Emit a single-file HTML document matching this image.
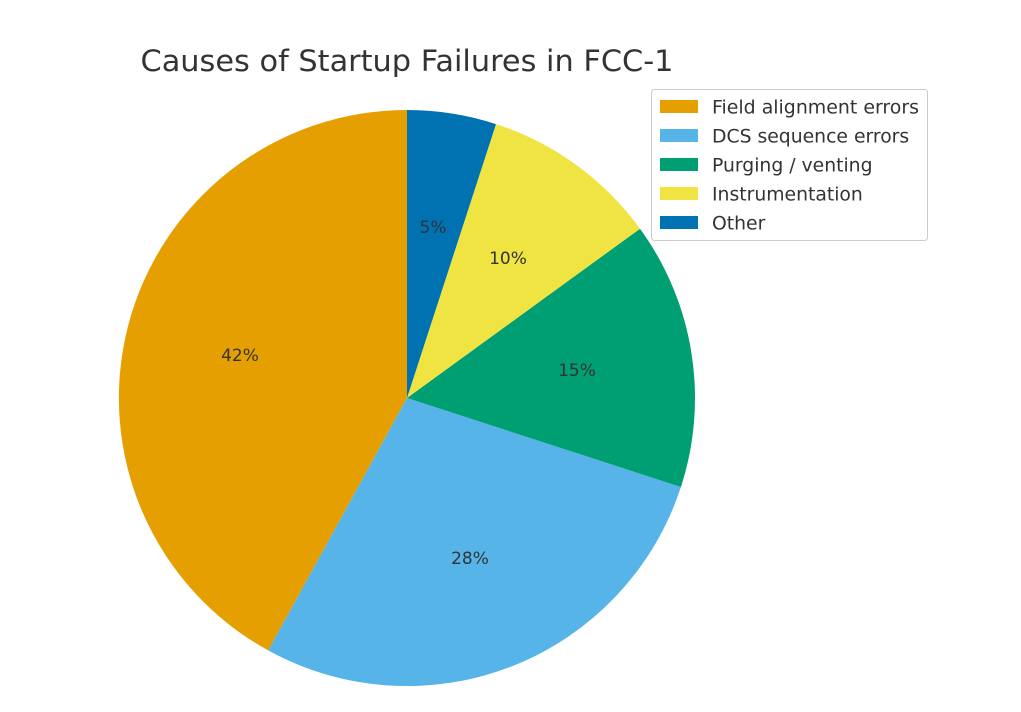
<!DOCTYPE html>
<html><head><meta charset="utf-8"><style>
html,body{margin:0;padding:0;background:#fff;}
svg{display:block;font-family:"DejaVu Sans","Liberation Sans",sans-serif;}
</style></head><body>
<svg width="1021" height="712" viewBox="0 0 1021 712">
<rect width="1021" height="712" fill="#fff"/>
<text x="407" y="71" text-anchor="middle" font-size="29.2" fill="#333" textLength="533" lengthAdjust="spacingAndGlyphs">Causes of Startup Failures in FCC-1</text>
<g>
<path d="M407,398 L407,110 A288,288 0 0,0 268.2,650.4 Z" fill="#E69F00"/>
<path d="M407,398 L268.2,650.4 A288,288 0 0,0 680.9,487.0 Z" fill="#56B4E9"/>
<path d="M407,398 L680.9,487.0 A288,288 0 0,0 640.0,228.7 Z" fill="#009E73"/>
<path d="M407,398 L640.0,228.7 A288,288 0 0,0 496.0,124.1 Z" fill="#F0E442"/>
<path d="M407,398 L496.0,124.1 A288,288 0 0,0 407,110 Z" fill="#0072B2"/>
</g>
<g font-size="17" fill="#333" text-anchor="middle">
<text x="240" y="361">42%</text>
<text x="470" y="564">28%</text>
<text x="577" y="376">15%</text>
<text x="508" y="264">10%</text>
<text x="433" y="233">5%</text>
</g>
<rect x="651.5" y="89.5" width="276" height="151" rx="3" fill="#fff" fill-opacity="0.85" stroke="#ccc"/>
<g font-size="18.8" fill="#333">
<rect x="660" y="100" width="38" height="13" fill="#E69F00"/><text x="712" y="113.5" textLength="207" lengthAdjust="spacingAndGlyphs">Field alignment errors</text>
<rect x="660" y="129" width="38" height="13" fill="#56B4E9"/><text x="712" y="142.5">DCS sequence errors</text>
<rect x="660" y="158" width="38" height="13" fill="#009E73"/><text x="712" y="171.5">Purging / venting</text>
<rect x="660" y="187" width="38" height="13" fill="#F0E442"/><text x="712" y="200.5">Instrumentation</text>
<rect x="660" y="216" width="38" height="13" fill="#0072B2"/><text x="712" y="229.5">Other</text>
</g>
</svg>
</body></html>
